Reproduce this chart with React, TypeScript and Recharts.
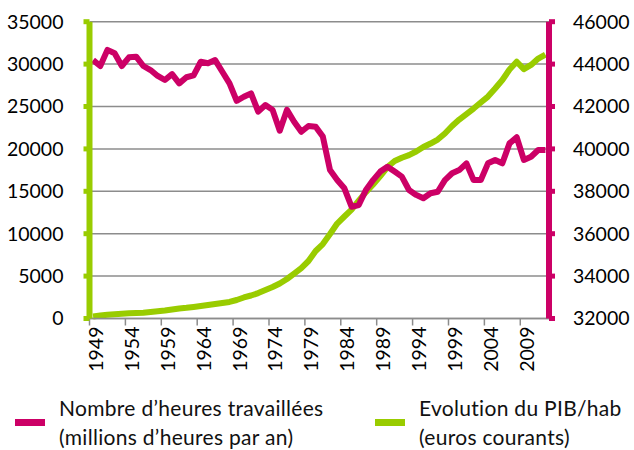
import { ComposedChart, Line, XAxis, YAxis, CartesianGrid } from 'recharts';

const YEARS = [
  1949, 1950, 1951, 1952, 1953, 1954, 1955, 1956, 1957, 1958,
  1959, 1960, 1961, 1962, 1963, 1964, 1965, 1966, 1967, 1968,
  1969, 1970, 1971, 1972, 1973, 1974, 1975, 1976, 1977, 1978,
  1979, 1980, 1981, 1982, 1983, 1984, 1985, 1986, 1987, 1988,
  1989, 1990, 1991, 1992, 1993, 1994, 1995, 1996, 1997, 1998,
  1999, 2000, 2001, 2002, 2003, 2004, 2005, 2006, 2007, 2008,
  2009, 2010, 2011, 2012,
];

// millions d'heures par an (axe de droite)
const HOURS = [
  44190, 43910, 44670, 44510, 43910, 44320, 44350, 43910, 43720, 43440,
  43250, 43530, 43090, 43380, 43470, 44110, 44040, 44190, 43640, 43090,
  42270, 42460, 42620, 41760, 42070, 41840, 40860, 41840, 41280, 40810,
  41080, 41050, 40580, 39000, 38530, 38140, 37270, 37350, 38060, 38530,
  38930, 39160, 38930, 38690, 38060, 37830, 37670, 37910, 37980, 38530,
  38850, 39000, 39320, 38530, 38530, 39320, 39480, 39320, 40260, 40550,
  39480, 39630, 39950, 39950,
];

// PIB/hab en euros courants (axe de gauche)
const PIB = [
  240, 360, 440, 500, 550, 610, 650, 690, 770, 850,
  940, 1060, 1180, 1260, 1360, 1470, 1590, 1710, 1830, 1950,
  2180, 2480, 2710, 3000, 3360, 3710, 4130, 4660, 5300, 5950,
  6780, 7960, 8780, 9960, 11200, 12030, 12850, 13900, 14900, 15800,
  16800, 17860, 18570, 18960, 19270, 19690, 20220, 20630, 21100, 21810,
  22700, 23460, 24110, 24760, 25470, 26170, 27120, 28120, 29360, 30280,
  29400, 29900, 30650, 31130,
];

const LEFT_TICKS = [0, 5000, 10000, 15000, 20000, 25000, 30000, 35000];
const RIGHT_TICKS = [32000, 34000, 36000, 38000, 40000, 42000, 44000, 46000];
// ticks placed on the category boundaries, label = next year
const X_TICKS = [1948.5, 1953.5, 1958.5, 1963.5, 1968.5, 1973.5, 1978.5, 1983.5, 1988.5, 1993.5, 1998.5, 2003.5, 2008.5];

const MAGENTA = '#cc0066';
const GREEN = '#99cc00';
const GRID = '#8c8c8c';
const FONT = 'Lato, "Open Sans", sans-serif';

const data = YEARS.map((y, i) => ({ year: y, hours: HOURS[i], pib: PIB[i] }));

function YearTick({ x, y, payload }: any) {
  const tx = x + 6;
  return (
    <text x={tx} y={y} transform={`rotate(-90, ${tx}, ${y})`} textAnchor="end"
      dominantBaseline="central" fill="#000" fontSize={19.5} fontFamily={FONT}>
      {payload.value + 0.5}
    </text>
  );
}

function LegendItem({ color, lines, left }: { color: string; lines: string[]; left: number }) {
  return (
    <div style={{ position: 'absolute', left, top: 393, display: 'flex', alignItems: 'center' }}>
      <div style={{ width: 30, height: 7, background: color, marginRight: 14 }} />
      <div style={{ fontSize: 21, lineHeight: '29px', letterSpacing: 0.3, color: '#111', fontFamily: FONT, whiteSpace: 'nowrap' }}>
        {lines.map(l => <div key={l}>{l}</div>)}
      </div>
    </div>
  );
}

export default function App() {
  return (
    <div style={{ position: 'absolute', left: 0, top: 0, width: 634, height: 450, background: '#fff', fontFamily: FONT }}>
      <ComposedChart width={634} height={450} data={data}
        margin={{ top: 21.7, right: 0, bottom: 71.5, left: 0 }}>
        <CartesianGrid yAxisId="left" vertical={false} stroke={GRID} strokeWidth={1.5} />
        <XAxis dataKey="year" type="number" domain={[1948.5, 2012.5]} ticks={X_TICKS} interval={0}
          height={60} tickSize={7} tickMargin={1} tick={<YearTick />}
          axisLine={{ stroke: GRID, strokeWidth: 1.5 }} tickLine={{ stroke: GRID, strokeWidth: 1.5 }} />
        <YAxis yAxisId="left" orientation="left" domain={[0, 35000]} ticks={LEFT_TICKS} interval={0}
          width={89.5} tickSize={6} tickMargin={20}
          axisLine={{ stroke: GREEN, strokeWidth: 6 }} tickLine={{ stroke: GREEN, strokeWidth: 5 }}
          tick={{ fill: '#000', fontSize: 19.5, fontFamily: FONT }} />
        <YAxis yAxisId="right" orientation="right" domain={[32000, 46000]} ticks={RIGHT_TICKS} interval={0}
          width={85} tickSize={6} tickMargin={18}
          axisLine={{ stroke: MAGENTA, strokeWidth: 6 }} tickLine={{ stroke: MAGENTA, strokeWidth: 5 }}
          tick={{ fill: '#000', fontSize: 19.5, fontFamily: FONT }} />
        <Line yAxisId="left" dataKey="pib" type="linear" stroke={GREEN} strokeWidth={6}
          strokeLinejoin="round" dot={false} isAnimationActive={false} />
        <Line yAxisId="right" dataKey="hours" type="linear" stroke={MAGENTA} strokeWidth={6}
          strokeLinejoin="round" dot={false} isAnimationActive={false} />
      </ComposedChart>
      <LegendItem color={MAGENTA} left={15} lines={['Nombre d\u2019heures travaillées', '(millions d\u2019heures par an)']} />
      <LegendItem color={GREEN} left={375} lines={['Evolution du PIB/hab', '(euros courants)']} />
    </div>
  );
}
